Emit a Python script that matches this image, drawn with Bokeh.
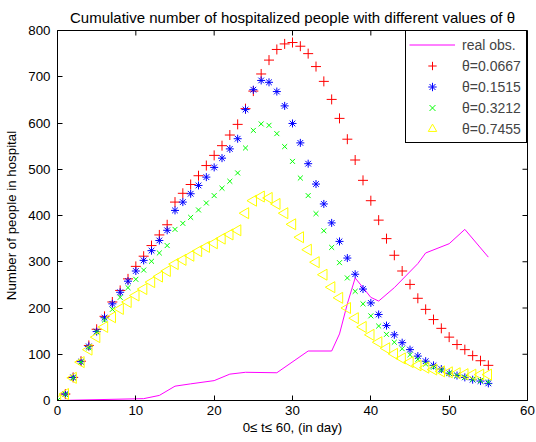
import numpy as np
from bokeh.plotting import figure
from bokeh.models import Range1d, FixedTicker, Legend, LegendItem
from bokeh.embed import file_html
from bokeh.resources import INLINE

# ---------------- data ----------------
days = list(range(56))

theta_0667 = [0, 14, 50, 85, 119, 154, 182, 213, 238, 263, 290, 312, 335, 358, 380,
              429, 448, 467, 486, 508, 530, 551, 574, 597, 631, 669, 706, 736, 759, 771,
              774, 766, 750, 722, 690, 651, 610, 565, 520, 476, 432, 390, 350, 314, 280,
              251, 221, 197, 175, 156, 137, 121, 110, 97, 86, 76]

theta_1515 = [0, 14, 50, 84, 117, 149, 179, 209, 234, 258, 280, 303, 324, 346, 368,
              411, 429, 447, 465, 483, 504, 524, 544, 566, 629, 672, 692, 688, 668, 637,
              599, 557, 512, 468, 425, 384, 344, 308, 273, 241, 211, 186, 162, 142, 125,
              110, 96, 85, 76, 68, 59, 54, 50, 45, 42, 37]

theta_3212 = [0, 13, 49, 83, 114, 148, 174, 197, 223, 244, 262, 282, 301, 319, 335,
              370, 383, 396, 412, 427, 443, 459, 474, 492, 546, 584, 598, 595, 577, 549,
              517, 481, 443, 404, 367, 331, 298, 265, 236, 209, 183, 161, 143, 126, 112,
              99, 89, 79, 72, 65, 59, 54, 50, 46, 43, 40]

theta_7455 = [0, 14, 49, 83, 110, 137, 159, 180, 198, 213, 227, 241, 256, 268, 280,
              295, 304, 313, 323, 332, 340, 350, 359, 368, 405, 432, 441, 438, 425, 405,
              381, 353, 326, 299, 272, 245, 222, 200, 178, 159, 142, 126, 113, 101, 91,
              83, 76, 71, 67, 63, 61, 59, 57, 56, 56, 56]

obs_days = [0, 11, 13, 15, 17, 20, 22, 24, 28, 32, 35, 36, 37, 38, 40, 41, 43, 46, 47, 50, 52, 55]
obs_vals = [0, 4, 11, 31, 36, 43, 57, 61, 60, 107, 107, 144, 209, 265, 223, 215, 244, 296, 319, 339, 370, 310]

title_text = "Cumulative number of hospitalized people with different values of \u03b8"
xlabel = "0\u2264 t\u2264 60, (in day)"
ylabel = "Number of people in hospital"
x_ticks = [0, 10, 20, 30, 40, 50, 60]
y_ticks = [0, 100, 200, 300, 400, 500, 600, 700, 800]
labels = ["real obs.", "\u03b8=0.0667", "\u03b8=0.1515", "\u03b8=0.3212", "\u03b8=0.7455"]

FONT = "Liberation Sans"
X0, X1, Y0, Y1 = 0, 60, 0, 800
W, H = 536, 442
BL, BR, BT, BB = 57, 9, 30, 42
FRAME_W, FRAME_H = W - BL - BR, H - BT - BB
TICK_PX = 5

p = figure(width=W, height=H, output_backend="svg", toolbar_location=None,
           x_range=Range1d(X0, X1), y_range=Range1d(Y0, Y1),
           min_border_left=BL, min_border_right=BR, min_border_top=BT, min_border_bottom=BB)

p.title.text = title_text
p.title.align = "center"
p.title.text_font = FONT
p.title.text_font_size = "15px"
p.title.text_font_style = "normal"
p.title.text_color = "black"
p.title.standoff = 9
p.title.offset = 0

p.grid.visible = False
p.outline_line_color = "black"
p.outline_line_alpha = 1
p.outline_line_width = 1
p.background_fill_color = "white"
p.border_fill_color = "white"

def style_axis(ax, ticks):
    ax.ticker = FixedTicker(ticks=ticks)
    ax.major_tick_in = TICK_PX
    ax.major_tick_out = 0
    ax.minor_tick_line_color = None
    ax.axis_line_color = "black"
    ax.major_tick_line_color = "black"
    ax.major_label_text_font = FONT
    ax.major_label_text_font_size = "13.3px"
    ax.major_label_text_color = "black"
    ax.axis_label_text_font = FONT
    ax.axis_label_text_font_size = "13.3px"
    ax.axis_label_text_font_style = "normal"
    ax.axis_label_text_color = "black"

style_axis(p.xaxis[0], x_ticks)
style_axis(p.yaxis[0], y_ticks)
p.xaxis[0].axis_label = xlabel
p.yaxis[0].axis_label = ylabel
p.xaxis[0].major_label_standoff = 5
p.xaxis[0].axis_label_standoff = 2
p.yaxis[0].major_label_standoff = 7
p.yaxis[0].axis_label_standoff = 6

# mirrored tick marks on top and right edges (inward)
dy = TICK_PX * (Y1 - Y0) / FRAME_H
dx = TICK_PX * (X1 - X0) / FRAME_W
p.segment(x0=x_ticks, y0=[Y1] * len(x_ticks), x1=x_ticks, y1=[Y1 - dy] * len(x_ticks),
          line_color="black", line_width=1)
p.segment(x0=[X1] * len(y_ticks), y0=y_ticks, x1=[X1 - dx] * len(y_ticks), y1=y_ticks,
          line_color="black", line_width=1)

r_obs = p.line(obs_days, obs_vals, line_color="#ff00ff", line_width=1)
r1 = p.scatter(days, theta_0667, marker="cross", size=10, line_color="#ff0000", line_width=1)
r2 = p.scatter(days, theta_1515, marker="asterisk", size=8, line_color="#0000ff", line_width=1)
r3 = p.scatter(days, theta_3212, marker="x", size=7, line_color="#00ff00", line_width=1)
r4 = p.scatter(days, theta_7455, marker="triangle", size=11, angle=np.pi / 2,
               line_color="#ffff00", fill_color=None, line_width=1)

legend = Legend(items=[LegendItem(label=labels[0], renderers=[r_obs]),
                       LegendItem(label=labels[1], renderers=[r1]),
                       LegendItem(label=labels[2], renderers=[r2]),
                       LegendItem(label=labels[3], renderers=[r3]),
                       LegendItem(label=labels[4], renderers=[r4])],
                location="top_right", margin=0, padding=3, spacing=0,
                glyph_width=46, glyph_height=21, label_height=21, label_width=61,
                label_standoff=7, label_text_font=FONT, label_text_font_size="14px",
                border_line_color="black", border_line_width=1, border_line_alpha=1,
                background_fill_color="white", background_fill_alpha=1)
p.add_layout(legend)

open("out.html", "w").write(file_html(p, INLINE))
